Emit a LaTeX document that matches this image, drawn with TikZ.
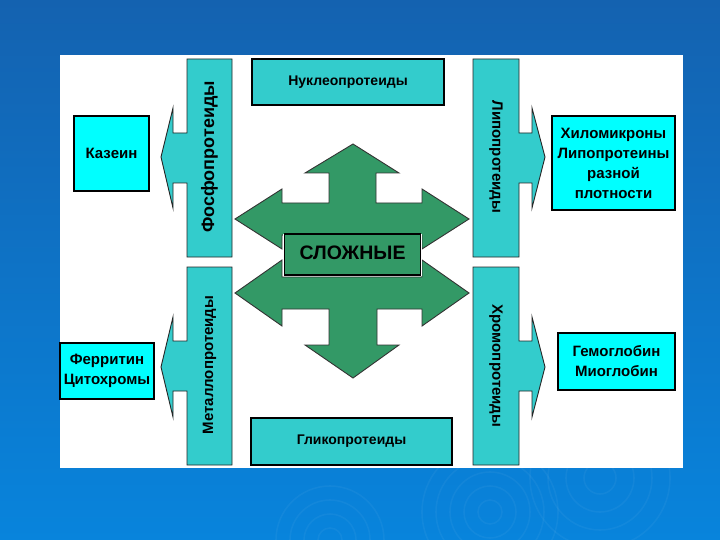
\documentclass[tikz,border=0pt]{standalone}
\usepackage{fontspec}
\setmainfont{Liberation Sans}
\definecolor{tealc}{RGB}{51,204,204}
\definecolor{cyanc}{RGB}{0,255,255}
\definecolor{greenc}{RGB}{51,153,102}
\definecolor{bgtop}{RGB}{20,98,176}
\definecolor{bgbot}{RGB}{8,132,220}
\tikzset{
  fs/.style={font=\bfseries\fontsize{#1}{20}\selectfont},
  cbox/.style={draw=black, line width=1.2pt, fill=cyanc, align=center, inner sep=0pt, fs=15},
  tbox/.style={draw=black, line width=1.2pt, fill=tealc, align=center, inner sep=0pt, fs=14},
  callout/.style={draw=black!85, line width=0.9pt, fill=tealc, line join=miter},
  garrow/.style={draw=black!80, fill=greenc, line width=0.9pt, line join=miter},
  vlabel/.style={inner sep=0pt, text=black, fs=15},
  ripple/.style={draw=white, opacity=0.045, line width=1.6pt}
}
\begin{document}
\begin{tikzpicture}[x=1pt,y=-1pt]
\useasboundingbox (0,0) rectangle (720,540);
% background
\shade[top color=bgtop, bottom color=bgbot] (0,0) rectangle (720,540);
\foreach \r in {12,26,40,54} {\draw[ripple] (330,540) circle (\r);}
\foreach \r in {12,26,40,54,68} {\draw[ripple] (490,512) circle (\r);}
\foreach \r in {16,34,52,70} {\draw[ripple] (600,478) circle (\r);}
% white panel
\fill[white] (60,55) rectangle (683,468);

% callout arrows
\path[callout] (232,59) -- (232,257) -- (187,257) -- (187,183) -- (173,183) -- (173,208)
  -- (161,157) -- (173,108) -- (173,133) -- (187,133) -- (187,59) -- cycle;
\path[callout] (232,267) -- (232,465) -- (187,465) -- (187,391) -- (173,391) -- (173,417)
  -- (161,367) -- (173,317) -- (173,341) -- (187,341) -- (187,267) -- cycle;
\path[callout] (473,59) -- (473,257) -- (519,257) -- (519,183) -- (532,183) -- (532,208)
  -- (545,157) -- (532,108) -- (532,133) -- (519,133) -- (519,59) -- cycle;
\path[callout] (473,267) -- (473,465) -- (519,465) -- (519,391) -- (532,391) -- (532,417)
  -- (545,367) -- (532,317) -- (532,341) -- (519,341) -- (519,267) -- cycle;

\node[vlabel, fs=18, rotate=90] (fosfo) at (209.5,157) {Фосфопротеиды};
\node[vlabel, rotate=90] (metallo) at (209.5,365) {Металлопротеиды};
\node[vlabel, rotate=-90] (lipo) at (496,157) {Липопротеиды};
\node[vlabel, rotate=-90] (chromo) at (496,366) {Хромопротеиды};

% boxes
\node[cbox, minimum width=75pt, minimum height=75pt] (kazein) at (111.5,153.5) {Казеин};
\node[cbox, minimum width=123pt, minimum height=94pt] (chylo) at (613.5,163)
  {Хиломикроны\\Липопротеины\\разной\\плотности};
\node[cbox, minimum width=94pt, minimum height=56pt] (ferritin) at (107,371) {Ферритин\\Цитохромы};
\node[cbox, minimum width=117pt, minimum height=57pt] (hemo) at (616.5,361.5) {Гемоглобин\\Миоглобин};
\node[tbox, minimum width=192pt, minimum height=46pt] (nucleo) at (348,82) {Нуклеопротеиды};
\node[tbox, minimum width=201pt, minimum height=47pt] (glyco) at (351.5,441.5) {Гликопротеиды};

% central green arrows
\path[garrow] (353,144) -- (399,173) -- (376,173) -- (376,203) -- (422,203) -- (422,189)
  -- (469,219) -- (422,249) -- (422,235) -- (282,235) -- (282,249) -- (235,219)
  -- (282,189) -- (282,203) -- (329,203) -- (329,173) -- (305,173) -- cycle;
\path[garrow] (353,378) -- (399,345) -- (377,345) -- (377,309) -- (422,309) -- (422,326)
  -- (469,293) -- (422,260) -- (422,277) -- (282,277) -- (282,260) -- (235,293)
  -- (282,326) -- (282,309) -- (329,309) -- (329,345) -- (305,345) -- cycle;
\draw[white, line width=1.6pt] (283.5,234) -- (283.5,276) (421.5,234) -- (421.5,276);
\node[draw=black, line width=1.2pt, fill=greenc, minimum width=136pt, minimum height=41pt,
  inner sep=0pt, fs=19.5] (center) at (352.5,254.5) {\raisebox{3pt}{СЛОЖНЫЕ}};
\end{tikzpicture}
\end{document}
